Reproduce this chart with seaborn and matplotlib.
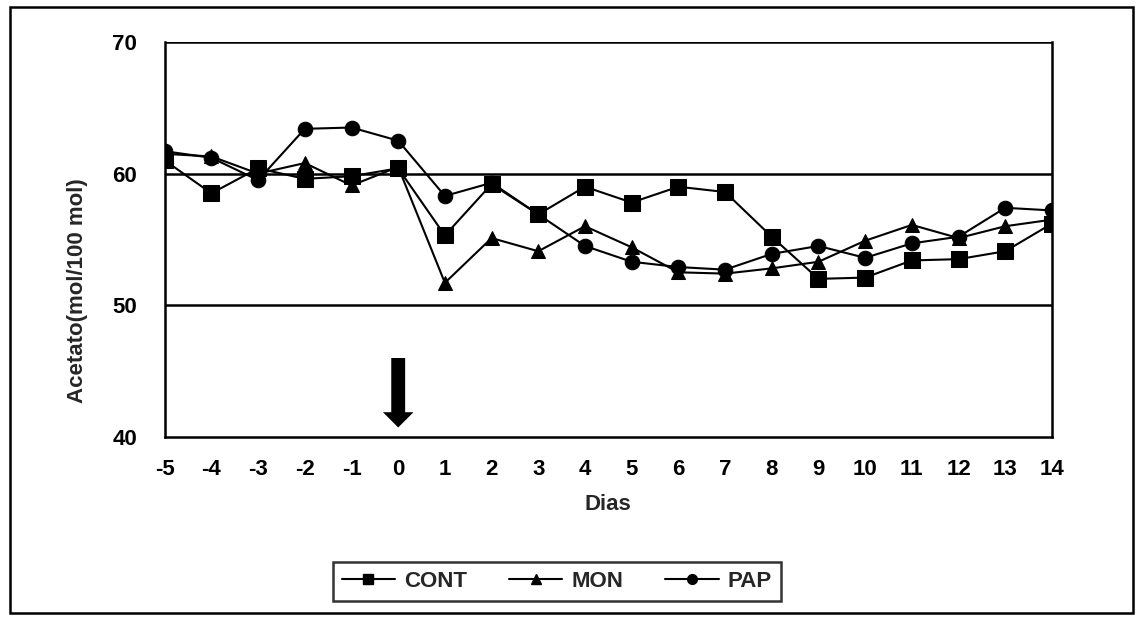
import matplotlib
matplotlib.use("Agg")
import matplotlib.pyplot as plt
import seaborn as sns
import pandas as pd
from matplotlib.lines import Line2D
from matplotlib.patches import Rectangle

# data
dias = [-5, -4, -3, -2, -1, 0, 1, 2, 3, 4, 5, 6, 7, 8, 9, 10, 11, 12, 13, 14]
cont = [61.0, 58.5, 60.4, 59.6, 59.8, 60.4, 55.3, 59.2, 56.9, 59.0, 57.8, 59.0, 58.6, 55.2, 52.0, 52.1, 53.4, 53.5, 54.1, 56.2]
mon = [61.5, 61.3, 60.0, 60.8, 59.1, 60.5, 51.7, 55.1, 54.1, 56.0, 54.4, 52.5, 52.4, 52.8, 53.3, 54.9, 56.1, 55.1, 56.0, 56.5]
pap = [61.7, 61.2, 59.5, 63.4, 63.5, 62.5, 58.3, 59.3, 56.9, 54.5, 53.3, 52.9, 52.7, 53.9, 54.5, 53.6, 54.7, 55.2, 57.4, 57.2]
series = ["CONT", "MON", "PAP"]

df = pd.DataFrame({"Dias": dias * 3,
                   "valor": cont + mon + pap,
                   "grupo": [s for s in series for _ in dias]})

sns.set_style("white")
plt.rcParams["font.family"] = ["Liberation Sans", "DejaVu Sans"]
plt.rcParams["font.weight"] = "bold"

fig = plt.figure(figsize=(11.36, 6.17), dpi=100)
ax = fig.add_axes([0.145, 0.292, 0.781, 0.640])

markers = {"CONT": "s", "MON": "^", "PAP": "o"}
sizes = {"CONT": 11, "MON": 10, "PAP": 10.5}
for s in series:
    sub = df[df["grupo"] == s]
    sns.lineplot(data=sub, x="Dias", y="valor", color="black", marker=markers[s],
                 markersize=sizes[s], markeredgecolor="black", linewidth=1.5, ax=ax)

# horizontal gridlines
for yv in [50, 60, 70]:
    ax.axhline(yv, color="black", lw=1.8, zorder=0)

ax.set_xlim(-5, 14)
ax.set_ylim(40, 70)
ax.set_xticks(dias)
ax.set_xticklabels([str(d) for d in dias])
ax.set_yticks([40, 50, 60, 70])
for sp in ["left", "bottom", "right"]:
    ax.spines[sp].set_visible(True)
    ax.spines[sp].set_color("black")
    ax.spines[sp].set_linewidth(1.8)
ax.spines["top"].set_visible(False)
ax.tick_params(axis="both", direction="out", length=7, width=1.8, labelsize=16, colors="black")
ax.tick_params(axis="y", pad=13)
ax.tick_params(axis="x", pad=9)
ax.set_xlabel("Dias", fontsize=16, fontweight="bold", labelpad=10)
ax.set_ylabel("Acetato(mol/100 mol)", fontsize=16, fontweight="bold", labelpad=12)
ax.yaxis.set_label_coords(-0.087, 0.37)

# arrow at day 0
ax.annotate("", xy=(0, 40.5), xytext=(0, 46.2),
            arrowprops=dict(arrowstyle="simple,head_width=2.2,head_length=1.1,tail_width=1.0",
                            color="black", lw=0))

handles = [Line2D([0], [0], color="black", lw=1.5, marker=markers[s], markersize=7)
           for s in series]
leg = fig.legend(handles, series, loc="center", bbox_to_anchor=(0.49, 0.058), ncol=3,
                 frameon=True, fancybox=False, edgecolor="black", fontsize=16,
                 handlelength=2.4, handletextpad=0.4, columnspacing=1.9, borderpad=0.4)
leg.get_frame().set_linewidth(1.8)
for t in leg.get_texts():
    t.set_fontweight("bold")

# outer border around the chart
fig.patches.append(Rectangle((0.009, 0.006), 0.988, 0.982, transform=fig.transFigure,
                             fill=False, edgecolor="black", lw=1.8))

fig.savefig("out.png", dpi=100)
